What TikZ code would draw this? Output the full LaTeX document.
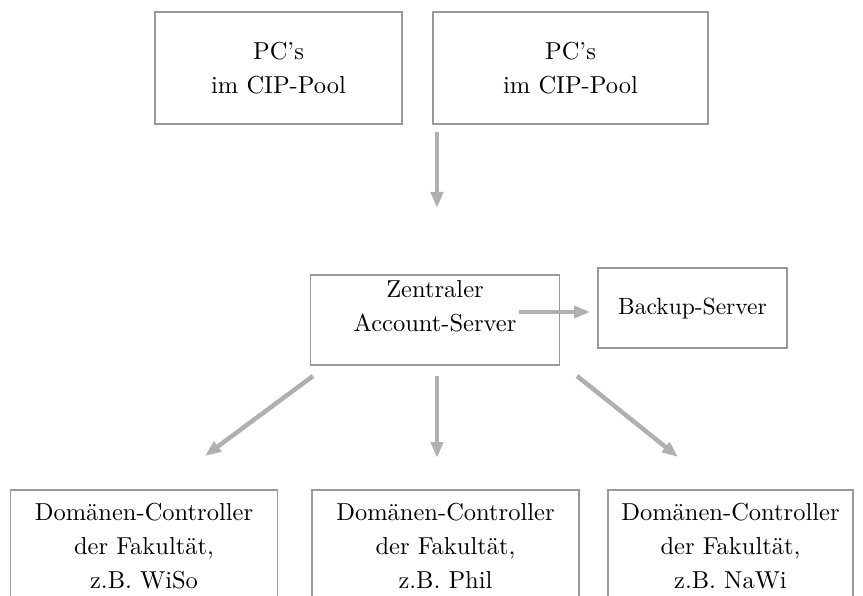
\documentclass[tikz,border=0pt]{standalone}
\usepackage{fontspec}
\setmainfont{lmroman10-regular.otf}
\usetikzlibrary{arrows.meta}
\begin{document}
\begin{tikzpicture}[x=1pt,y=-1pt,
  box/.style={draw=gray!80, line width=1.4pt, inner sep=0pt},
  lbl/.style={align=center, font=\fontsize{24.5}{34}\selectfont, inner sep=0pt},
  arr/.style={draw=gray!62, line width=4.5pt, -{Triangle[length=16pt,width=12pt]}}
]
\useasboundingbox (0,0) rectangle (863,596);
% top boxes
\node[box, minimum width=247pt, minimum height=112pt] (pc1) at (278.5,68) {};
\node[lbl] (pc1t) at (278.5,68) {PC's\\im CIP-Pool};
\node[box, minimum width=275pt, minimum height=112pt] (pc2) at (570.5,68) {};
\node[lbl] (pc2t) at (570.5,68) {PC's\\im CIP-Pool};
% central
\node[box, minimum width=249pt, minimum height=90pt] (zas) at (435,320) {};
\node[lbl] (zast) at (435,306) {Zentraler\\Account-Server};
% backup
\node[box, minimum width=189pt, minimum height=80pt] (bak) at (692.5,308) {};
\node[lbl, font=\fontsize{23.5}{34}\selectfont] (bakt) at (692.5,308) {Backup-Server};
% bottom boxes
\node[box, minimum width=267pt, minimum height=120pt] (dc1) at (144,550) {};
\node[lbl] (dc1t) at (144,546) {Domänen-Controller\\der Fakultät,\\z.B. WiSo};
\node[box, minimum width=267pt, minimum height=120pt] (dc2) at (445.5,550) {};
\node[lbl] (dc2t) at (445.5,546) {Domänen-Controller\\der Fakultät,\\z.B. Phil};
\node[box, minimum width=245pt, minimum height=120pt] (dc3) at (730.5,550) {};
\node[lbl] (dc3t) at (730.5,546) {Domänen-Controller\\der Fakultät,\\z.B. NaWi};
% arrow end points
\coordinate (a1s) at (437,132);
\coordinate (a1e) at (437,208);
\coordinate (a2s) at (519,312);
\coordinate (a2e) at (590,312);
\coordinate (a3s) at (313,376);
\coordinate (a3e) at (205,456);
\coordinate (a4s) at (437,376);
\coordinate (a4e) at (437,458);
\coordinate (a5s) at (577,376);
\coordinate (a5e) at (678,457);
\draw[arr] (a1s) -- (a1e);
\draw[arr] (a2s) -- (a2e);
\draw[arr] (a3s) -- (a3e);
\draw[arr] (a4s) -- (a4e);
\draw[arr] (a5s) -- (a5e);
\end{tikzpicture}
\end{document}
